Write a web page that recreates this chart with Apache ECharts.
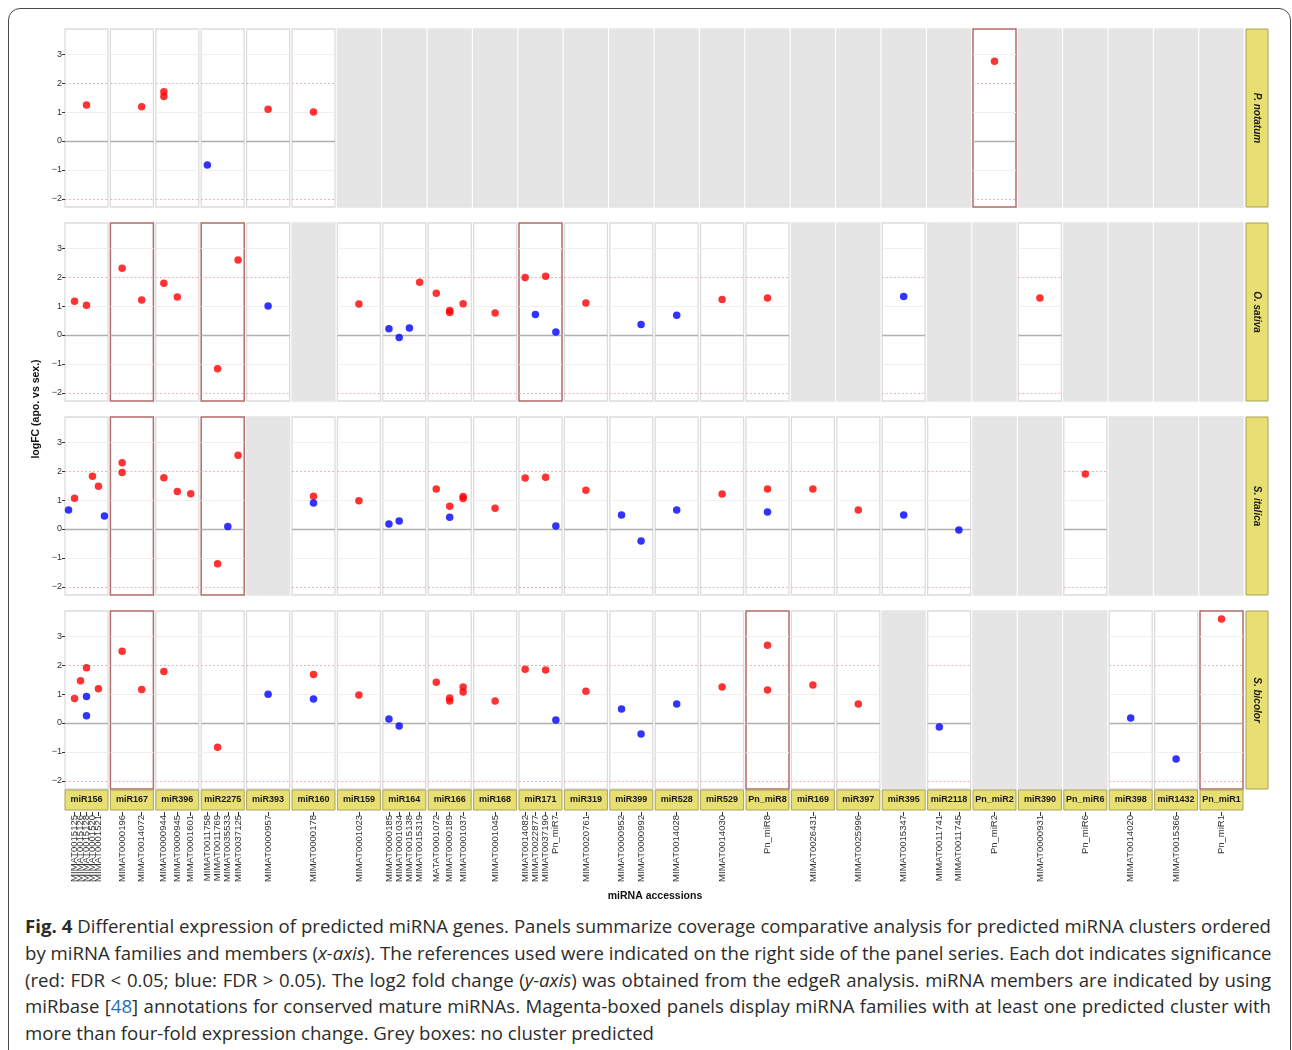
<!DOCTYPE html>
<html>
<head>
<meta charset="utf-8">
<title>Fig. 4 differential expression</title>
<script src="https://cdn.jsdelivr.net/npm/echarts@6/dist/echarts.min.js"></script>
<style>
  body { margin: 0; background: #fff; }
  #frame { position: absolute; left: 8px; top: 8px; width: 1283px; height: 1080px;
           border: 1px solid #4a4a4a; border-radius: 12px; box-sizing: border-box; }
  #chart { position: absolute; left: 0; top: 0; width: 1292px; height: 905px; }
  #caption { position: absolute; left: 25px; top: 913px; width: 1246px;
             font-family: "Open Sans", sans-serif; font-size: 18.6px; line-height: 26.8px; color: #2b2b2b; }
  #caption div { white-space: nowrap; }
  #caption .j { text-align: justify; text-align-last: justify; }
  #caption a { color: #2a6ebb; text-decoration: none; }
</style>
</head>
<body>
<div id="frame"></div>
<div id="chart"></div>
<div id="caption">
  <div class="j"><b>Fig. 4</b> Differential expression of predicted miRNA genes. Panels summarize coverage comparative analysis for predicted miRNA clusters ordered</div>
  <div class="j">by miRNA families and members (<i>x-axis</i>). The references used were indicated on the right side of the panel series. Each dot indicates significance</div>
  <div class="j">(red: FDR &lt; 0.05; blue: FDR &gt; 0.05). The log2 fold change (<i>y-axis</i>) was obtained from the edgeR analysis. miRNA members are indicated by using</div>
  <div class="j">miRbase [<a>48</a>] annotations for conserved mature miRNAs. Magenta-boxed panels display miRNA families with at least one predicted cluster with</div>
  <div>more than four-fold expression change. Grey boxes: no cluster predicted</div>
</div>
<script>
// reference genomes (rows) and miRNA families (columns)
const species = ['P. notatum', 'O. sativa', 'S. italica', 'S. bicolor'];
const families = ['miR156', 'miR167', 'miR396', 'miR2275', 'miR393', 'miR160', 'miR159', 'miR164',
  'miR166', 'miR168', 'miR171', 'miR319', 'miR399', 'miR528', 'miR529', 'Pn_miR8', 'miR169',
  'miR397', 'miR395', 'miR2118', 'Pn_miR2', 'miR390', 'Pn_miR6', 'miR398', 'miR1432', 'Pn_miR1'];

// members (x tick labels) of each family, same order as families
const accessions = [
  ['MIMAT0015124', 'MIMAT0015125', 'MIMAT0015126', 'MIMAT0015128', 'MIMAT0001520', 'MIMAT0001521', 'MIMAT0001522'],
  ['MIMAT0000196', 'MIMAT0014072'],
  ['MIMAT0000944', 'MIMAT0000945', 'MIMAT0001601'],
  ['MIMAT0011758', 'MIMAT0011769', 'MIMAT0035533', 'MIMAT0037125'],
  ['MIMAT0000957'],
  ['MIMAT0000178'],
  ['MIMAT0001023'],
  ['MIMAT0000185', 'MIMAT0001034', 'MIMAT0015138', 'MIMAT0015319'],
  ['MATAT0001072', 'MIMAT0000189', 'MIMAT0001037'],
  ['MIMAT0001045'],
  ['MIMAT0014082', 'MIMAT0022877', 'MIMAT0037190', 'Pn_miR7'],
  ['MIMAT0020761'],
  ['MIMAT0000952', 'MIMAT0000992'],
  ['MIMAT0014028'],
  ['MIMAT0014030'],
  ['Pn_miR8'],
  ['MIMAT0026431'],
  ['MIMAT0025996'],
  ['MIMAT0015347'],
  ['MIMAT0011741', 'MIMAT0011745'],
  ['Pn_miR2'],
  ['MIMAT0000931'],
  ['Pn_miR6'],
  ['MIMAT0014020'],
  ['MIMAT0015366'],
  ['Pn_miR1']
];

// [family, member (1-based), logFC, significant (1: FDR<0.05 red, 0: blue)]
const pNotatum = [
  ['miR156', 4, 1.24, 1], ['miR167', 2, 1.18, 1], ['miR396', 1, 1.70, 1], ['miR396', 1, 1.54, 1],
  ['miR2275', 1, -0.83, 0], ['miR393', 1, 1.10, 1], ['miR160', 1, 1.00, 1], ['Pn_miR2', 1, 2.76, 1]
];
const oSativa = [
  ['miR156', 2, 1.17, 1], ['miR156', 4, 1.03, 1], ['miR167', 1, 2.31, 1], ['miR167', 2, 1.21, 1],
  ['miR396', 1, 1.79, 1], ['miR396', 2, 1.31, 1], ['miR2275', 2, -1.17, 1], ['miR2275', 4, 2.59, 1],
  ['miR393', 1, 1.00, 0], ['miR159', 1, 1.07, 1],
  ['miR164', 1, 0.22, 0], ['miR164', 2, -0.09, 0], ['miR164', 3, 0.24, 0], ['miR164', 4, 1.82, 1],
  ['miR166', 1, 1.44, 1], ['miR166', 2, 0.85, 1], ['miR166', 2, 0.78, 1], ['miR166', 3, 1.08, 1],
  ['miR168', 1, 0.76, 1],
  ['miR171', 1, 1.99, 1], ['miR171', 2, 0.71, 0], ['miR171', 3, 2.03, 1], ['miR171', 4, 0.10, 0],
  ['miR319', 1, 1.11, 1], ['miR399', 2, 0.36, 0], ['miR528', 1, 0.68, 0], ['miR529', 1, 1.23, 1],
  ['Pn_miR8', 1, 1.28, 1], ['miR395', 1, 1.33, 0], ['miR390', 1, 1.28, 1]
];
const sItalica = [
  ['miR156', 1, 0.66, 0], ['miR156', 2, 1.06, 1], ['miR156', 5, 1.82, 1], ['miR156', 6, 1.48, 1],
  ['miR156', 7, 0.45, 0], ['miR167', 1, 2.29, 1], ['miR167', 1, 1.95, 1],
  ['miR396', 1, 1.77, 1], ['miR396', 2, 1.30, 1], ['miR396', 3, 1.22, 1],
  ['miR2275', 2, -1.20, 1], ['miR2275', 3, 0.09, 0], ['miR2275', 4, 2.55, 1],
  ['miR160', 1, 1.13, 1], ['miR160', 1, 0.90, 0], ['miR159', 1, 0.98, 1],
  ['miR164', 1, 0.17, 0], ['miR164', 2, 0.28, 0],
  ['miR166', 1, 1.38, 1], ['miR166', 2, 0.79, 1], ['miR166', 2, 0.41, 0], ['miR166', 3, 1.12, 1], ['miR166', 3, 1.05, 1],
  ['miR168', 1, 0.72, 1], ['miR171', 1, 1.76, 1], ['miR171', 3, 1.79, 1], ['miR171', 4, 0.10, 0],
  ['miR319', 1, 1.34, 1], ['miR399', 1, 0.48, 0], ['miR399', 2, -0.41, 0], ['miR528', 1, 0.66, 0],
  ['miR529', 1, 1.21, 1], ['Pn_miR8', 1, 1.38, 1], ['Pn_miR8', 1, 0.59, 0], ['miR169', 1, 1.38, 1],
  ['miR397', 1, 0.66, 1], ['miR395', 1, 0.48, 0], ['miR2118', 2, -0.03, 0], ['Pn_miR6', 1, 1.90, 1]
];
const sBicolor = [
  ['miR156', 2, 0.85, 1], ['miR156', 3, 1.46, 1], ['miR156', 4, 1.91, 1], ['miR156', 4, 0.92, 0],
  ['miR156', 4, 0.25, 0], ['miR156', 6, 1.18, 1], ['miR167', 1, 2.48, 1], ['miR167', 2, 1.16, 1],
  ['miR396', 1, 1.78, 1], ['miR2275', 2, -0.84, 1], ['miR393', 1, 0.99, 0],
  ['miR160', 1, 1.68, 1], ['miR160', 1, 0.83, 0], ['miR159', 1, 0.97, 1],
  ['miR164', 1, 0.14, 0], ['miR164', 2, -0.10, 0],
  ['miR166', 1, 1.41, 1], ['miR166', 2, 0.86, 1], ['miR166', 2, 0.76, 1], ['miR166', 3, 1.24, 1], ['miR166', 3, 1.07, 1],
  ['miR168', 1, 0.76, 1], ['miR171', 1, 1.86, 1], ['miR171', 3, 1.83, 1], ['miR171', 4, 0.10, 0],
  ['miR319', 1, 1.10, 1], ['miR399', 1, 0.48, 0], ['miR399', 2, -0.38, 0], ['miR528', 1, 0.66, 0],
  ['miR529', 1, 1.24, 1], ['Pn_miR8', 1, 2.69, 1], ['Pn_miR8', 1, 1.14, 1], ['miR169', 1, 1.31, 1],
  ['miR397', 1, 0.66, 1], ['miR2118', 1, -0.14, 0], ['miR398', 1, 0.17, 0], ['miR1432', 1, -1.24, 0],
  ['Pn_miR1', 1, 3.59, 1]
];
const speciesPoints = [pNotatum, oSativa, sItalica, sBicolor];

const yTicks = [-2, -1, 0, 1, 2, 3];
const yMin = -2.28, yMax = 3.87;

// layout
const left0 = 65, colStep = 45.4, panelW = 43, panelH = 178;
const rowTops = [29, 223, 417, 611];
const stripFill = '#e8df73', stripLine = '#aaa25a';
const font = '"Liberation Sans", Arial, sans-serif';

const chart = echarts.init(document.getElementById('chart'));

const grid = [], xAxis = [], yAxis = [], series = [], graphic = [];

species.forEach((sp, r) => {
  families.forEach((fam, c) => {
    const idx = r * families.length + c;
    const pts = speciesPoints[r].filter(p => p[0] === fam);
    const empty = pts.length === 0;
    const boxed = pts.some(p => Math.abs(p[2]) > 2);
    const accs = accessions[c];
    const n = accs.length;
    const members = accs.map((a, i) => i + 1);
    const bottom = r === species.length - 1;

    grid.push({
      left: left0 + c * colStep, top: rowTops[r], width: panelW, height: panelH,
      show: true,
      backgroundColor: empty ? '#e5e5e5' : '#ffffff',
      borderColor: empty ? '#e5e5e5' : (boxed ? '#b36b6b' : '#dcdcdc'),
      borderWidth: boxed ? 1.5 : 1.3
    });
    xAxis.push({
      gridIndex: idx, type: 'value', min: 0.4, max: n + 0.6,
      position: 'bottom',
      offset: bottom ? 23 : 0,
      axisLine: { show: false, onZero: false },
      splitLine: { show: false },
      axisTick: { show: bottom, customValues: members, length: 4, lineStyle: { color: '#333', width: 1 } },
      axisLabel: {
        show: bottom, customValues: members, rotate: 90, margin: 3,
        fontSize: 9.5, fontFamily: font, color: '#333',
        formatter: v => accs[Math.round(v) - 1] || ''
      }
    });
    yAxis.push({
      gridIndex: idx, type: 'value', min: yMin, max: yMax,
      axisLine: { show: false, onZero: false },
      splitLine: { show: false },
      axisTick: { show: c === 0, customValues: yTicks, length: 3, lineStyle: { color: '#333', width: 1 } },
      axisLabel: {
        show: c === 0, customValues: yTicks, margin: 3, fontSize: 9, fontFamily: font, color: '#333',
        formatter: v => (v < 0 ? '\u2212' + (-v) : String(v))
      }
    });

    if (empty) return;

    // reference lines: 0 solid grey, +-2 dotted red, others faint
    series.push({
      type: 'line', xAxisIndex: idx, yAxisIndex: idx, data: [], z: 1, silent: true,
      markLine: {
        symbol: 'none', silent: true, animation: false, label: { show: false },
        data: yTicks.map(t => ({
          yAxis: t,
          lineStyle: t === 0 ? { color: '#b0b0b0', width: 1.3, type: 'solid' }
            : Math.abs(t) === 2 ? { color: '#f2b0b0', width: 1, type: [2, 2] }
            : { color: '#f4eded', width: 1, type: 'solid' }
        }))
      }
    });
    series.push({
      type: 'scatter', xAxisIndex: idx, yAxisIndex: idx, z: 5, symbolSize: 7.5,
      data: pts.map(p => ({ value: [p[1], p[2]], itemStyle: { color: p[3] ? '#ff0000' : '#0000ff' } }))
    });
  });

  // right-hand species strip
  const top = rowTops[r];
  graphic.push({
    type: 'rect', shape: { x: 1246, y: top, width: 22, height: panelH },
    style: { fill: stripFill, stroke: stripLine, lineWidth: 1 }
  });
  graphic.push({
    type: 'text', x: 1257, y: top + panelH / 2, rotation: -Math.PI / 2,
    style: { text: sp, fontSize: 10, fontWeight: 'bold', fontStyle: 'italic', fontFamily: font,
             fill: '#1a1a1a', align: 'center', verticalAlign: 'middle' }
  });
});

// bottom family strips
families.forEach((fam, c) => {
  const x = left0 + c * colStep;
  graphic.push({
    type: 'rect', shape: { x: x, y: 790, width: panelW, height: 20 },
    style: { fill: stripFill, stroke: stripLine, lineWidth: 1 }
  });
  graphic.push({
    type: 'text', x: x + panelW / 2, y: 800,
    style: { text: fam, fontSize: 9, fontWeight: 'bold', fontFamily: font,
             fill: '#1a1a1a', align: 'center', verticalAlign: 'middle' }
  });
});

// axis titles
graphic.push({
  type: 'text', x: 36, y: 409, rotation: Math.PI / 2,
  style: { text: 'logFC (apo. vs sex.)', fontSize: 10.5, fontWeight: 'bold', fontFamily: font,
           fill: '#111', align: 'center', verticalAlign: 'middle' }
});
graphic.push({
  type: 'text', x: 655, y: 896,
  style: { text: 'miRNA accessions', fontSize: 10.5, fontWeight: 'bold', fontFamily: font,
           fill: '#111', align: 'center', verticalAlign: 'middle' }
});

chart.setOption({
  animation: false,
  grid: grid,
  xAxis: xAxis,
  yAxis: yAxis,
  series: series,
  graphic: graphic
});
</script>
</body>
</html>
